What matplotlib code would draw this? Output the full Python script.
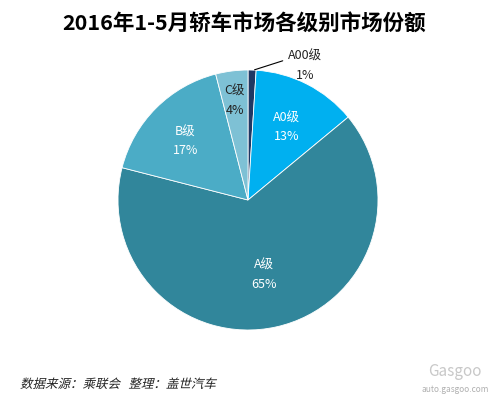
import numpy as np
import matplotlib.pyplot as plt
from matplotlib.textpath import TextPath
from matplotlib.patches import PathPatch
from matplotlib.font_manager import FontProperties
from matplotlib.transforms import Affine2D

plt.rcParams['font.family'] = ['Noto Sans CJK SC', 'DejaVu Sans']

# 数据
labels = ['A00级', 'A0级', 'A级', 'B级', 'C级']
shares = [1, 13, 65, 17, 4]
colors = ['#1F3864', '#00B0F0', '#31869B', '#4BACC6', '#7EC1D5']
text_colors = ['#222222', 'white', 'white', 'white', '#222222']

W, H = 488, 399
fig = plt.figure(figsize=(W / 100, H / 100), dpi=100)
ax = fig.add_axes([(248 - 130) / W, 1 - 330 / H, 260 / W, 260 / H])

wedges, _ = ax.pie(shares, colors=colors, startangle=90, counterclock=False,
                   wedgeprops=dict(edgecolor='white', linewidth=0.6))
ax.set_xlim(-1, 1)
ax.set_ylim(-1, 1)
ax.set_aspect('equal')

# 标签位置（半径比例）
label_r = [None, 0.66, 0.56, 0.68, 0.8]
for w, lab, val, r, tc in zip(wedges, labels, shares, label_r, text_colors):
    if r is None:
        continue
    ang = np.deg2rad((w.theta1 + w.theta2) / 2)
    ax.text(r * np.cos(ang), r * np.sin(ang) - 0.03, f'{lab}\n{val}%', ha='center', va='center',
            color=tc, fontsize=9, linespacing=1.6)

# A00 外部标签与引线
ax.annotate(f'{labels[0]}\n{shares[0]}%', xy=(0.03, 0.995), xytext=(0.44, 1.03),
            ha='center', va='center', fontsize=9, color='#222222', linespacing=1.6,
            arrowprops=dict(arrowstyle='-', color='black', lw=0.8,
                            relpos=(0.0, 0.72)))

fig.text(0.5, 1 - 24 / H, '2016年1-5月轿车市场各级别市场份额', ha='center', va='center',
         fontsize=15.5, fontweight='bold', color='black')

# 斜体来源说明（CJK 字体无斜体，用剪切变换）
src = '数据来源：乘联会   整理：盖世汽车'
tp = TextPath((0, 0), src, size=12.5, prop=FontProperties(family='Noto Sans CJK SC'))
tr = Affine2D().skew_deg(14, 0).translate(20, H - 388)
fig.patches.append(PathPatch(tp, transform=tr, facecolor='#222222', edgecolor='none'))

fig.text(455 / W, 1 - 372 / H, 'Gasgoo', ha='center', va='center',
         fontsize=11, color='#c8c8c8')
fig.text(455 / W, 1 - 389 / H, 'auto.gasgoo.com', ha='center', va='center',
         fontsize=6, color='#b0b0b0')

fig.savefig('out.png', dpi=100, facecolor='white')
